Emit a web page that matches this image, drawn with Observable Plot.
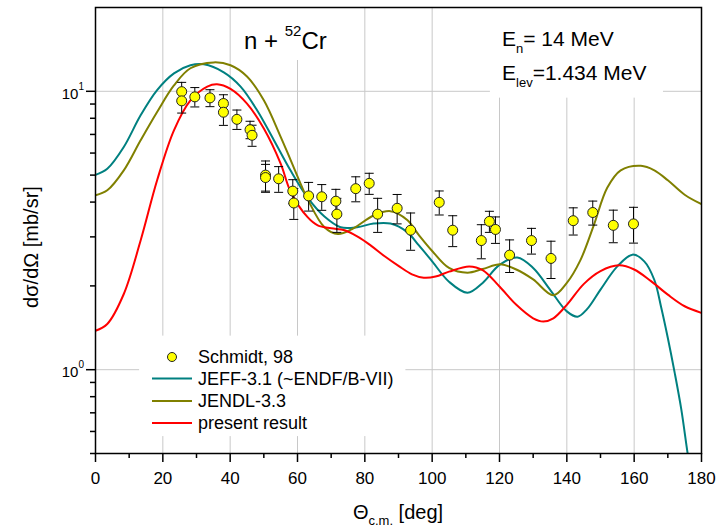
<!DOCTYPE html>
<html><head><meta charset="utf-8">
<script src="https://cdn.jsdelivr.net/npm/d3@7"></script>
<script src="https://cdn.jsdelivr.net/npm/@observablehq/plot@0.6"></script>
<style>body{margin:0;background:#fff}</style>
</head><body><div id="chart"></div>
<script>
// ---- Data ----
const schAngle = [25.6,25.6,29.5,34.0,38.0,38.0,42.0,45.9,46.5,50.5,50.5,54.4,58.6,58.9,63.3,67.2,71.4,71.7,77.3,81.3,83.8,89.6,93.6,102.1,106.1,114.6,117.0,118.8,123.0,129.5,135.3,141.9,147.7,153.8,159.8];
const schValue = [9.97,9.24,9.55,9.47,9.04,8.41,7.93,7.28,6.95,5.00,4.90,4.85,4.38,3.97,4.21,4.18,4.03,3.62,4.47,4.67,3.62,3.80,3.17,3.99,3.17,2.91,3.41,3.19,2.58,2.91,2.51,3.43,3.67,3.30,3.34];
const schErrPct = [8,9.6,8,7,7.5,10.3,8,7.2,8.7,12.4,11.5,10.6,9.9,12.7,11.8,10.6,10.3,14,10.3,8.7,14,12.1,15.3,9.9,12.7,14,8.7,10.9,13.4,10.6,15.3,11.2,9.9,13.4,14.7];

const jeffAngle = [0,3.5,8.4,13.4,18.3,23.3,28.2,32.2,38.1,43.1,48,53,57.9,63,68,72.8,77.7,82.6,87.6,92.6,96,100,105,110.5,115,120,125.3,130,135,140,143.2,146,150,155,159.5,163,166,168,170,172,174,176,177];
const jeffValue = [5.01,5.27,6.31,8.2,10.1,11.6,12.4,12.5,11.7,10.4,8.55,6.67,5.2,4.15,3.55,3.25,3.25,3.35,3.35,3.12,2.80,2.45,2.07,1.89,2.05,2.38,2.53,2.32,1.94,1.62,1.55,1.65,1.94,2.35,2.59,2.45,2.10,1.68,1.30,0.98,0.72,0.49,0.42];

const jendlAngle = [0,3.5,8.4,13.4,18.3,23.3,28.2,35.1,40.1,45,50,55,58,63,68,72,76.6,82.6,87.6,92.6,96,100,105,110.5,115,120.3,125,130,136,140,144,148,152,156,162,166,170,175,180];
const jendlValue = [4.23,4.41,5.2,6.67,8.43,10.5,12.1,12.7,12.4,11.3,9.28,6.86,5.65,4.1,3.25,3.07,3.22,3.58,3.71,3.45,3.05,2.67,2.32,2.23,2.30,2.39,2.29,2.11,1.85,2.05,2.47,3.3,4.5,5.2,5.4,5.2,4.79,4.25,3.93];

const presAngle = [0,3.5,8.4,13.4,18.3,23.3,28.2,33.2,36.1,40.1,45,50,55,58,63,66,70,74,78,82,86,90,94,97.5,101,105,111,115,120,125,130,133,136,140,145,150,155.5,160,165,170,175,180];
const presValue = [1.38,1.46,1.87,2.91,4.79,7.24,9.28,10.4,10.6,10.2,9.03,7.35,5.5,4.35,3.53,3.30,3.22,3.17,3.00,2.78,2.55,2.36,2.20,2.14,2.16,2.25,2.35,2.28,1.99,1.71,1.53,1.49,1.53,1.71,2.03,2.26,2.37,2.29,2.08,1.86,1.69,1.60];

const xMajor = [0,20,40,60,80,100,120,140,160,180];
const xMinor = [10,30,50,70,90,110,130,150,170];
const yMajor = [1,10];
const yMinor = [0.5,0.6,0.7,0.8,0.9,2,3,4,5,6,7,8,9];
const legendLabels = ["Schmidt, 98","JEFF-3.1 (~ENDF/B-VII)","JENDL-3.3","present result"];
const colors = {jeff:"#008080", jendl:"#808000", pres:"#ff0000", pt:"#ffff00"};

// ---- Build tables ----
const pts = schAngle.map((a,i)=>({a, v:schValue[i], lo:schValue[i]*(1-schErrPct[i]/100), hi:schValue[i]*(1+schErrPct[i]/100)}));
const jeff = jeffAngle.map((a,i)=>({a, v:jeffValue[i]}));
const jendl = jendlAngle.map((a,i)=>({a, v:jendlValue[i]}));
const pres = presAngle.map((a,i)=>({a, v:presValue[i]}));

const FONT = "'Liberation Sans', Arial, Helvetica, sans-serif";
const cap = {draw(ctx){ ctx.moveTo(-4.5,0); ctx.lineTo(4.5,0); }};

const plot = Plot.plot({
  width: 725, height: 528,
  marginLeft: 95, marginRight: 24, marginTop: 7, marginBottom: 75,
  style: {fontFamily: FONT, fontSize: "16px", color: "black", background: "white"},
  x: {domain: [0,180]},
  y: {type: "log", domain: [0.5,20]},
  marks: [
    Plot.gridX({ticks: xMajor.slice(1,-1), stroke: "#c8c8c8", strokeOpacity: 1, strokeWidth: 1}),
    Plot.gridY({ticks: yMajor, stroke: "#c8c8c8", strokeOpacity: 1, strokeWidth: 1}),
    Plot.line(jeff, {x:"a", y:"v", stroke: colors.jeff, strokeWidth: 2, curve: "catmull-rom", clip: true}),
    Plot.line(jendl, {x:"a", y:"v", stroke: colors.jendl, strokeWidth: 2, curve: "catmull-rom", clip: true}),
    Plot.line(pres, {x:"a", y:"v", stroke: colors.pres, strokeWidth: 2, curve: "catmull-rom", clip: true}),
    Plot.ruleX(pts, {x:"a", y1:"lo", y2:"hi", stroke: "black", strokeWidth: 1}),
    Plot.dot(pts, {x:"a", y:"hi", symbol: cap, stroke: "black", strokeWidth: 1, fill: "none"}),
    Plot.dot(pts, {x:"a", y:"lo", symbol: cap, stroke: "black", strokeWidth: 1, fill: "none"}),
    Plot.dot(pts, {x:"a", y:"v", r: 5, fill: colors.pt, stroke: "#222", strokeWidth: 1}),
    Plot.axisX({ticks: xMajor, tickSize: 9, tickPadding: 9, label: null, fontSize: 17, stroke: "black", strokeWidth: 1.5}),
    Plot.axisX({ticks: xMinor, tickSize: 5, tickFormat: () => "", label: null, stroke: "black", strokeWidth: 1.5}),
    Plot.axisY({ticks: yMajor, tickSize: 9, tickFormat: () => "", label: null, stroke: "black", strokeWidth: 1.5}),
    Plot.axisY({ticks: yMinor, tickSize: 5, tickFormat: () => "", label: null, stroke: "black", strokeWidth: 1.5}),
    Plot.frame({stroke: "black", strokeWidth: 1.5})
  ]
});

document.getElementById("chart").appendChild(plot);
const svg = d3.select(plot);
const xs = plot.scale("x"), ys = plot.scale("y");
const X = v => xs.apply(v), Y = v => ys.apply(v);

// white knock-out boxes (behind curves, above grid)
const firstLine = plot.querySelector("g[aria-label='line']");
const boxes = d3.create("svg:g").attr("fill","white");
[[X(49), X(79), Y(20), Y(12.9)],        // title
 [X(117.3), X(168.7), Y(20), Y(9.45)],  // energy labels
 [X(13.1), X(92.2), Y(1.32), Y(0.575)]  // legend
].forEach(([x1,x2,y1,y2]) => boxes.append("rect").attr("x",x1).attr("y",y1).attr("width",x2-x1).attr("height",y2-y1));
if (firstLine) firstLine.parentNode.insertBefore(boxes.node(), firstLine); else svg.node().appendChild(boxes.node());

const T = svg.append("g").attr("font-family", FONT).attr("fill","black").attr("text-anchor","start");

// y tick labels with superscript exponent
yMajor.forEach(v => {
  const t = T.append("text").attr("x", 84).attr("y", Y(v) + 8).attr("text-anchor","end").attr("font-size", 15);
  t.append("tspan").text("10");
  t.append("tspan").attr("font-size", 10).attr("dy", -9).text(String(Math.round(Math.log10(v))));
});

// axis titles
const xt = T.append("text").attr("x", 398).attr("y", 519).attr("text-anchor","middle").attr("font-size", 20);
xt.append("tspan").text("Θ");
xt.append("tspan").attr("font-size", 13).attr("dy", 6).text("c.m.");
xt.append("tspan").attr("dy", -6).text(" [deg]");

T.append("text").attr("transform","translate(38,247) rotate(-90)").attr("text-anchor","middle")
  .attr("font-size", 20).text("dσ/dΩ [mb/sr]");

// annotations
const t1 = T.append("text").attr("x", 244).attr("y", 49).attr("font-size", 24);
t1.append("tspan").text("n + ");
t1.append("tspan").attr("font-size", 15).attr("dy", -13).text("52");
t1.append("tspan").attr("dy", 13).text("Cr");

const t2 = T.append("text").attr("x", 502).attr("y", 46).attr("font-size", 21);
t2.append("tspan").text("E");
t2.append("tspan").attr("font-size", 13).attr("dy", 7).text("n");
t2.append("tspan").attr("dy", -7).text("= 14 MeV");

const t3 = T.append("text").attr("x", 502).attr("y", 80).attr("font-size", 21);
t3.append("tspan").text("E");
t3.append("tspan").attr("font-size", 13).attr("dy", 7).text("lev");
t3.append("tspan").attr("dy", -7).text("=1.434 MeV");

// legend
const L = T.append("g").attr("font-size", 18);
const rowsY = [357, 378.5, 401, 423];
L.append("circle").attr("cx", 172).attr("cy", rowsY[0]).attr("r", 4.5).attr("fill", colors.pt).attr("stroke","#222");
[colors.jeff, colors.jendl, colors.pres].forEach((c,i) => {
  L.append("line").attr("x1",152).attr("x2",192).attr("y1",rowsY[i+1]).attr("y2",rowsY[i+1]).attr("stroke",c).attr("stroke-width",2);
});
legendLabels.forEach((s,i) => L.append("text").attr("x",198).attr("y",rowsY[i]).attr("dy","0.35em").text(s));
</script>
</body></html>
